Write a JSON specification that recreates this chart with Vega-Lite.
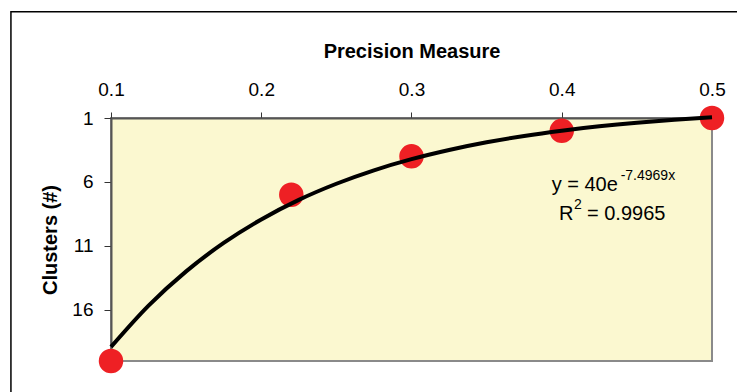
{
  "$schema": "https://vega.github.io/schema/vega-lite/v6.json",
  "width": 601,
  "height": 243,
  "autosize": {"type": "none"},
  "padding": {"left": 111, "top": 118, "right": 25, "bottom": 31},
  "background": "white",
  "config": {
    "view": {"fill": "#FBF8D0", "stroke": "#8a8a8a", "strokeWidth": 2},
    "font": "Liberation Sans",
    "text": {"font": "Liberation Sans", "color": "black"}
  },
  "datasets": {
    "points": [
      {"precision": 0.1, "clusters": 20},
      {"precision": 0.22, "clusters": 7},
      {"precision": 0.3, "clusters": 4},
      {"precision": 0.4, "clusters": 2},
      {"precision": 0.5, "clusters": 1}
    ],
    "trend": [
      {"precision": 0.1, "clusters": 18.9},
      {"precision": 0.125, "clusters": 15.67},
      {"precision": 0.15, "clusters": 12.99},
      {"precision": 0.175, "clusters": 10.77},
      {"precision": 0.2, "clusters": 8.93},
      {"precision": 0.225, "clusters": 7.4},
      {"precision": 0.25, "clusters": 6.14},
      {"precision": 0.275, "clusters": 5.09},
      {"precision": 0.3, "clusters": 4.22},
      {"precision": 0.325, "clusters": 3.5},
      {"precision": 0.35, "clusters": 2.9},
      {"precision": 0.375, "clusters": 2.4},
      {"precision": 0.4, "clusters": 1.99},
      {"precision": 0.425, "clusters": 1.65},
      {"precision": 0.45, "clusters": 1.37},
      {"precision": 0.475, "clusters": 1.14},
      {"precision": 0.5, "clusters": 0.94}
    ]
  },
  "layer": [
    {
      "data": {"values": [{}]},
      "mark": {"type": "rect", "fill": null, "fillOpacity": 0, "stroke": "black", "strokeWidth": 1.5, "clip": false},
      "encoding": {
        "x": {"datum": 0.0334, "type": "quantitative"},
        "x2": {"datum": 0.6},
        "y": {"datum": -7.3, "type": "quantitative"},
        "y2": {"datum": 30}
      }
    },
    {
      "data": {"name": "points"},
      "mark": {"type": "circle", "size": 600, "color": "#EE2024", "opacity": 1},
      "encoding": {
        "x": {
          "field": "precision", "type": "quantitative",
          "scale": {"domain": [0.1, 0.5], "nice": false, "zero": false},
          "axis": {
            "orient": "top", "values": [0.1, 0.2, 0.3, 0.4, 0.5], "format": ".1f",
            "title": "Precision Measure", "titleFontSize": 20, "titleFontWeight": "bold",
            "titleColor": "black", "titleBaseline": "alphabetic", "titleY": -61,
            "labelFontSize": 19, "labelColor": "black", "labelBaseline": "alphabetic",
            "labelPadding": 17, "tickSize": 6, "tickColor": "#333",
            "domainColor": "#555", "domainWidth": 2, "grid": false, "labelFlush": false
          }
        },
        "y": {
          "field": "clusters", "type": "quantitative",
          "scale": {"domain": [1, 20], "reverse": true, "nice": false, "zero": false},
          "axis": {
            "orient": "left", "values": [1, 6, 11, 16],
            "title": "Clusters (#)", "titleFontSize": 20, "titleFontWeight": "bold",
            "titleColor": "black", "titleAngle": -90, "titleBaseline": "middle",
            "titleAlign": "center", "titleX": -61, "titleY": 121.5,
            "labelFontSize": 19, "labelColor": "black", "labelPadding": 11,
            "tickSize": 7, "tickColor": "#333",
            "domainColor": "#555", "domainWidth": 2, "grid": false, "labelFlush": false
          }
        }
      }
    },
    {
      "data": {"name": "trend"},
      "mark": {"type": "line", "color": "black", "strokeWidth": 4, "interpolate": "monotone", "clip": false},
      "encoding": {
        "x": {"field": "precision", "type": "quantitative"},
        "y": {"field": "clusters", "type": "quantitative"}
      }
    },
    {
      "data": {"values": [{}]},
      "mark": {"type": "text", "text": "y = 40e", "fontSize": 20, "align": "left", "baseline": "alphabetic"},
      "encoding": {
        "x": {"datum": 0.3933, "type": "quantitative"},
        "y": {"datum": 6.69, "type": "quantitative"}
      }
    },
    {
      "data": {"values": [{}]},
      "mark": {"type": "text", "text": "-7.4969x", "fontSize": 14, "align": "left", "baseline": "alphabetic"},
      "encoding": {
        "x": {"datum": 0.4392, "type": "quantitative"},
        "y": {"datum": 5.86, "type": "quantitative"}
      }
    },
    {
      "data": {"values": [{}]},
      "mark": {"type": "text", "text": "R", "fontSize": 20, "align": "left", "baseline": "alphabetic"},
      "encoding": {
        "x": {"datum": 0.3982, "type": "quantitative"},
        "y": {"datum": 8.99, "type": "quantitative"}
      }
    },
    {
      "data": {"values": [{}]},
      "mark": {"type": "text", "text": "2", "fontSize": 14, "align": "left", "baseline": "alphabetic"},
      "encoding": {
        "x": {"datum": 0.4082, "type": "quantitative"},
        "y": {"datum": 8.13, "type": "quantitative"}
      }
    },
    {
      "data": {"values": [{}]},
      "mark": {"type": "text", "text": "= 0.9965", "fontSize": 20, "align": "left", "baseline": "alphabetic"},
      "encoding": {
        "x": {"datum": 0.4168, "type": "quantitative"},
        "y": {"datum": 8.99, "type": "quantitative"}
      }
    }
  ]
}
